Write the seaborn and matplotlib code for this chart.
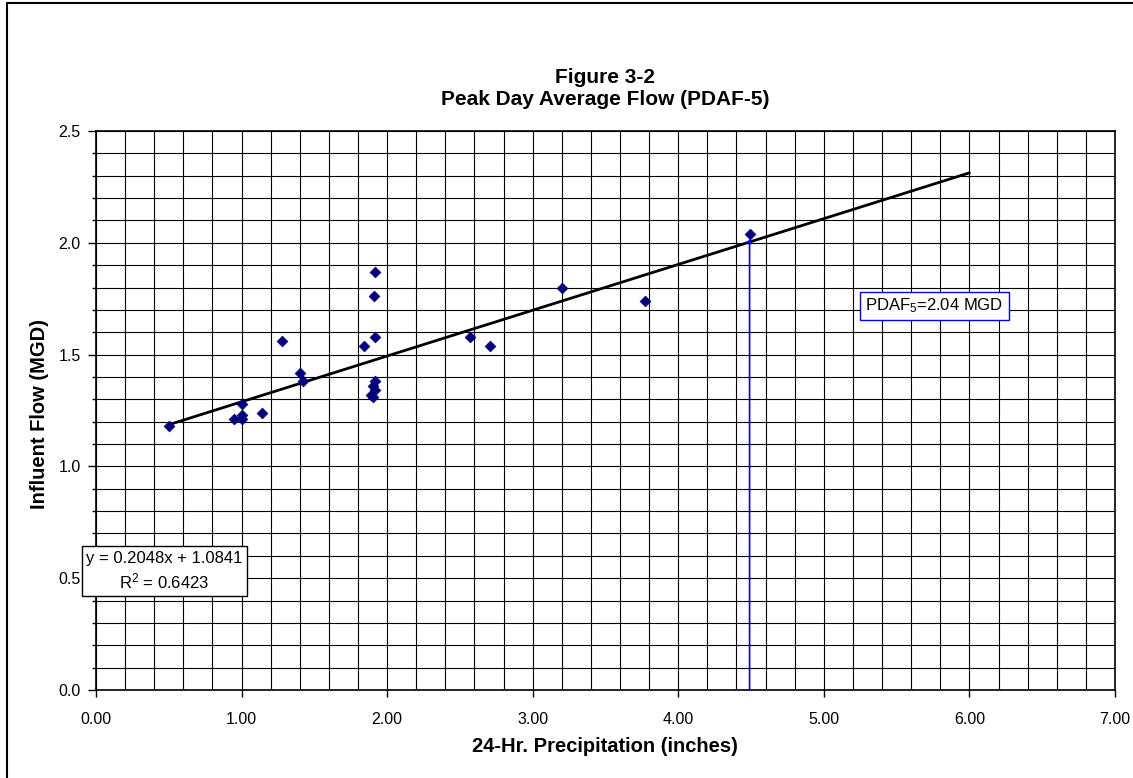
import numpy as np
import pandas as pd
import seaborn as sns
import matplotlib.pyplot as plt
from matplotlib.ticker import MultipleLocator, FormatStrFormatter
from matplotlib.lines import Line2D

# readings
precip = [0.50, 0.95, 1.00, 1.00, 1.00, 1.14, 1.28, 1.40, 1.42, 1.84, 1.92, 1.91,
          1.92, 1.92, 1.90, 1.92, 1.89, 1.90, 2.57, 2.71, 3.20, 3.77, 4.49]
flow = [1.18, 1.21, 1.21, 1.23, 1.28, 1.24, 1.56, 1.42, 1.38, 1.54, 1.87, 1.76,
        1.58, 1.38, 1.36, 1.34, 1.32, 1.31, 1.58, 1.54, 1.80, 1.74, 2.04]

slope = 0.2048
intercept = 1.0841
r_squared = 0.6423
trend_x = [0.5, 6.0]
pdaf_x = 4.49
pdaf_value = 2.04

sns.set_theme(style="white")
plt.rcParams['font.family'] = ['Liberation Sans', 'DejaVu Sans']
plt.rcParams['mathtext.fontset'] = 'custom'
plt.rcParams['mathtext.rm'] = 'Liberation Sans'
plt.rcParams['mathtext.it'] = 'Liberation Sans'
plt.rcParams['mathtext.bf'] = 'Liberation Sans:bold'
plt.rcParams['text.color'] = 'black'
plt.rcParams['axes.labelcolor'] = 'black'
plt.rcParams['xtick.color'] = 'black'
plt.rcParams['ytick.color'] = 'black'

df = pd.DataFrame({'precip': precip, 'flow': flow})
trend = pd.DataFrame({'x': trend_x, 'y': [slope * v + intercept for v in trend_x]})

fig = plt.figure(figsize=(11.33, 7.78), dpi=100)
ax = fig.add_axes([0.0847, 0.1131, 0.8994, 0.7185])

ax.set_xlim(0, 7)
ax.set_ylim(0, 2.5)
ax.xaxis.set_major_locator(MultipleLocator(1))
ax.xaxis.set_minor_locator(MultipleLocator(0.2))
ax.yaxis.set_major_locator(MultipleLocator(0.5))
ax.yaxis.set_minor_locator(MultipleLocator(0.1))
ax.xaxis.set_major_formatter(FormatStrFormatter('%.2f'))
ax.yaxis.set_major_formatter(FormatStrFormatter('%.1f'))
ax.grid(True, which='both', color='black', linewidth=0.8)
ax.set_axisbelow(True)

ax.tick_params(axis='x', which='major', direction='out', length=5, width=1,
               color='black', labelcolor='black', pad=11, labelsize=11.5, bottom=True)
ax.tick_params(axis='x', which='minor', length=0)
ax.tick_params(axis='y', which='major', direction='out', length=6, width=1,
               color='black', labelcolor='black', pad=5, labelsize=11.5, left=True)
ax.tick_params(axis='y', which='minor', direction='out', length=3, width=1,
               color='black', left=True)
for s in ax.spines.values():
    s.set_color('black')
    s.set_linewidth(1.2)

sns.lineplot(data=trend, x='x', y='y', ax=ax, color='black', linewidth=2, zorder=3)
ax.annotate('', xy=(pdaf_x, 2.02), xytext=(pdaf_x, 0),
            arrowprops=dict(arrowstyle='-|>', color='#0000FF', lw=1.2,
                            mutation_scale=6, shrinkA=0, shrinkB=0), zorder=4)
sns.scatterplot(data=df, x='precip', y='flow', ax=ax, marker='D', s=30,
                color='#000080', edgecolor='#000080', linewidth=0.5, zorder=5)

ax.set_xlabel('')
ax.set_ylabel('')

ax.text(5.76, 1.717, f'PDAF$_5$={pdaf_value:.2f} MGD', fontsize=12, ha='center', va='center',
        color='black',
        bbox=dict(boxstyle='square,pad=0.3', facecolor='white', edgecolor='#0000FF', linewidth=1),
        zorder=6)
fig.text(0.1452, 0.266, f'y = {slope:.4f}x + {intercept:.4f}\nR$^2$ = {r_squared:.4f}',
         fontsize=12, ha='center', va='center', linespacing=1.35, color='black',
         bbox=dict(boxstyle='square,pad=0.25', facecolor='white', edgecolor='black', linewidth=1),
         zorder=6)

fig.text(0.534, 0.901, 'Figure 3-2', fontsize=15, fontweight='bold', ha='center', va='center',
         color='black')
fig.text(0.534, 0.8715, 'Peak Day Average Flow (PDAF-5)', fontsize=15, fontweight='bold',
         ha='center', va='center', color='black')
fig.text(0.534, 1 - 747 / 778, '24-Hr. Precipitation (inches)', fontsize=14.5,
         fontweight='bold', ha='center', va='center', color='black')
fig.text(40 / 1133, 0.468, 'Influent Flow (MGD)', fontsize=14.5, fontweight='bold',
         ha='center', va='center', rotation=90, color='black')

# chart area border (left and top edges visible)
fig.add_artist(Line2D([7 / 1133, 7 / 1133], [0, 1 - 3 / 778], color='black', linewidth=1.5))
fig.add_artist(Line2D([7 / 1133, 1], [1 - 3 / 778, 1 - 3 / 778], color='black', linewidth=1.5))

fig.savefig('out.png', dpi=100)
